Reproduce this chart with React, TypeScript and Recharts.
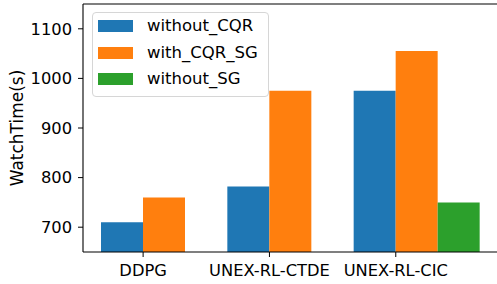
import React from 'react';
import { BarChart, Bar, XAxis, YAxis, Legend, ReferenceLine } from 'recharts';

const categories = ['DDPG', 'UNEX-RL-CTDE', 'UNEX-RL-CIC'];
const withoutCQR = [710, 782, 975];
const withCQRSG = [760, 975, 1055];
const withoutSG: (number | null)[] = [null, null, 750];
const yTicks = [700, 800, 900, 1000, 1100];
const yDomain: [number, number] = [650, 1150];

const seriesNames = ['without_CQR', 'with_CQR_SG', 'without_SG'];
const colors = ['#1f77b4', '#ff7f0e', '#2ca02c'];

const data = categories.map((c, i) => ({
  name: c,
  without_CQR: withoutCQR[i],
  with_CQR_SG: withCQRSG[i],
  without_SG: withoutSG[i],
}));

const FONT = 'DejaVu Sans';
const TICK_SIZE = 5;
const TICK_MARGIN = 7;

const XTick = (props: any) => {
  const { x, y, payload } = props;
  const half = payload && typeof payload.offset === 'number' && payload.offset > 0 ? payload.offset : 63.2;
  const shift = (half * 2) / 6;
  const cx = x - shift;
  return (
    <g>
      <line x1={cx} x2={cx} y1={y - TICK_MARGIN - TICK_SIZE} y2={y - TICK_MARGIN} stroke="#000" strokeWidth={1} />
      <text x={cx} y={y} dy="0.71em" textAnchor="middle" fontFamily={FONT} fontSize={16.3} fill="#000">
        {payload.value}
      </text>
    </g>
  );
};

const LegendBox = (props: any) => {
  const payload = [...(props.payload || [])].sort(
    (a: any, b: any) => seriesNames.indexOf(a.value) - seriesNames.indexOf(b.value)
  );
  return (
    <div
      style={{
        width: 177,
        boxSizing: 'border-box',
        border: '1px solid #d6d6d6',
        borderRadius: 4,
        background: 'rgba(255,255,255,0.8)',
        padding: '0 6px 3px 5px',
        fontFamily: FONT,
        fontSize: 16.5,
        color: '#000',
      }}
    >
      {payload.map((p: any) => (
        <div key={p.value} style={{ display: 'flex', alignItems: 'center', height: 26.5 }}>
          <div style={{ width: 35, height: 12, background: p.color, marginRight: 14 }} />
          <span style={{ lineHeight: '20px' }}>{p.value}</span>
        </div>
      ))}
    </div>
  );
};

const YLabel = (props: any) => {
  const vb = props.viewBox || { x: 0, y: 4, width: 83, height: 248 };
  const x = vb.x + 17;
  const y = vb.y + vb.height / 2;
  return (
    <text
      x={x}
      y={y}
      transform={`rotate(-90, ${x}, ${y})`}
      textAnchor="middle"
      dominantBaseline="central"
      fontFamily={FONT}
      fontSize={17}
      fill="#000"
    >
      WatchTime(s)
    </text>
  );
};

export default function App() {
  return (
    <div style={{ position: 'absolute', left: 0, top: 0, width: 497, height: 284, overflow: 'hidden', background: '#fff' }}>
      <BarChart
        width={500}
        height={284}
        data={data}
        margin={{ top: 4, right: 0, left: 0, bottom: 0 }}
        barCategoryGap={0}
        barGap={0}
      >
        <XAxis
          dataKey="name"
          height={32}
          padding={{ left: 18, right: 20 }}
          axisLine={{ stroke: '#000', strokeWidth: 1.1 }}
          tickLine={false}
          tickSize={TICK_SIZE}
          tickMargin={TICK_MARGIN}
          tick={<XTick />}
          interval={0}
        />
        <YAxis
          width={83}
          domain={yDomain}
          ticks={yTicks}
          allowDataOverflow
          axisLine={{ stroke: '#000', strokeWidth: 1.1 }}
          tickLine={{ stroke: '#000', strokeWidth: 1 }}
          tickSize={TICK_SIZE}
          tickMargin={6}
          tick={{ fontFamily: FONT, fontSize: 16.3, fill: '#000' }}
          label={<YLabel />}
        />
        <ReferenceLine y={yDomain[1]} stroke="#000" strokeWidth={1.1} />
        <Legend
          layout="vertical"
          align="center"
          verticalAlign="middle"
          itemSorter={null as any}
          content={<LegendBox />}
          wrapperStyle={{ left: 92, top: 12, width: 177 }}
        />
        {seriesNames.map((s, i) => (
          <Bar key={s} dataKey={s} name={s} fill={colors[i]} isAnimationActive={false} />
        ))}
      </BarChart>
    </div>
  );
}
